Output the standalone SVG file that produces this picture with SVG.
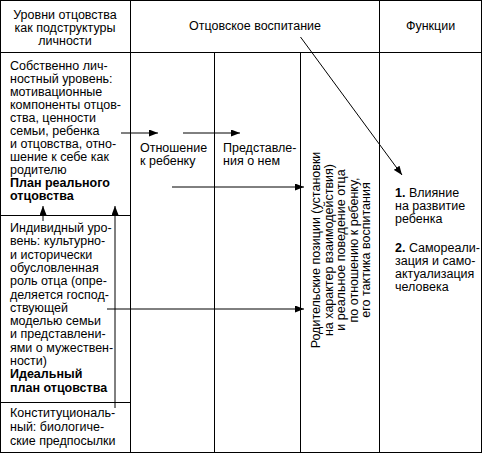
<svg xmlns="http://www.w3.org/2000/svg" width="482" height="454" viewBox="0 0 482 454">
<style>
text{font-family:"Liberation Sans",Arial,sans-serif;font-size:12.5px;fill:#000}
.c{text-anchor:middle}
.b{font-weight:bold}
.grid{stroke:#000;stroke-width:1;fill:none}
.con{stroke:#000;stroke-width:1;fill:none}
</style>
<defs>
<marker id="ah" markerUnits="userSpaceOnUse" markerWidth="9" markerHeight="7" refX="9" refY="3.5" orient="auto">
<path d="M0,0 L9,3.5 L0,7 z" fill="#000"/>
</marker>
</defs>
<rect width="482" height="454" fill="#fff"/>
<g id="grid" class="grid">
<rect x="0.5" y="0.5" width="481" height="452"/>
<line x1="0" y1="52.5" x2="482" y2="52.5"/>
<line x1="130.5" y1="0" x2="130.5" y2="453"/>
<line x1="379.5" y1="0" x2="379.5" y2="453"/>
<line x1="214.5" y1="52" x2="214.5" y2="453"/>
<line x1="300.5" y1="52" x2="300.5" y2="453"/>
<line x1="0" y1="215.5" x2="130" y2="215.5"/>
<line x1="0" y1="402.5" x2="130" y2="402.5"/>
</g>
<g id="h-levels">
<text class="c" x="65" y="19">Уровни отцовства</text>
<text class="c" x="65" y="32">как подструктуры</text>
<text class="c" x="65" y="45">личности</text>
</g>
<g id="h-upbringing">
<text class="c" x="255" y="30">Отцовское воспитание</text>
</g>
<g id="h-functions">
<text class="c" x="430.5" y="30">Функции</text>
</g>
<g id="personal-level">
<text x="10" y="70">Собственно лич-</text>
<text x="10" y="83">ностный уровень:</text>
<text x="10" y="96">мотивационные</text>
<text x="10" y="109">компоненты отцов-</text>
<text x="10" y="122">ства, ценности</text>
<text x="10" y="135">семьи, ребенка</text>
<text x="10" y="148">и отцовства, отно-</text>
<text x="10" y="161">шение к себе как</text>
<text x="10" y="174">родителю</text>
<text class="b" x="10" y="187">План реального</text>
<text class="b" x="10" y="200">отцовства</text>
</g>
<g id="individual-level">
<text x="10" y="232">Индивидный уро-</text>
<text x="10" y="245.3">вень: культурно-</text>
<text x="10" y="258.6">и исторически</text>
<text x="10" y="271.9">обусловленная</text>
<text x="10" y="285.2">роль отца (опре-</text>
<text x="10" y="298.5">деляется господ-</text>
<text x="10" y="311.8">ствующей</text>
<text x="10" y="325.1">моделью семьи</text>
<text x="10" y="338.4">и представлени-</text>
<text x="10" y="351.7">ями о мужествен-</text>
<text x="10" y="365">ности)</text>
<text class="b" x="10" y="378.3">Идеальный</text>
<text class="b" x="10" y="391.6">план отцовства</text>
</g>
<g id="constitutional-level">
<text x="10" y="417">Конституциональ-</text>
<text x="10" y="431">ный: биологиче-</text>
<text x="10" y="445">ские предпосылки</text>
</g>
<g id="attitude">
<text x="140" y="152">Отношение</text>
<text x="140" y="165">к ребенку</text>
</g>
<g id="ideas">
<text x="223" y="152">Представле-</text>
<text x="223" y="165">ния о нем</text>
</g>
<g id="positions">
<text class="c" transform="rotate(-90)" x="-250" y="320">Родительские позиции (установки</text>
<text class="c" transform="rotate(-90)" x="-250" y="332.5">на характер взаимодействия)</text>
<text class="c" transform="rotate(-90)" x="-250" y="345">и реальное поведение отца</text>
<text class="c" transform="rotate(-90)" x="-250" y="357.5">по отношению к ребенку,</text>
<text class="c" transform="rotate(-90)" x="-250" y="370">его тактика воспитания</text>
</g>
<g id="functions">
<text x="395" y="197"><tspan class="b">1.</tspan> Влияние</text>
<text x="395" y="210">на развитие</text>
<text x="395" y="223">ребенка</text>
<text x="395" y="252"><tspan class="b">2.</tspan> Самореали-</text>
<text x="395" y="265">зация и само-</text>
<text x="395" y="278">актуализация</text>
<text x="395" y="291">человека</text>
</g>
<g id="connectors" class="con">
<line x1="121" y1="133" x2="158" y2="133" marker-end="url(#ah)"/>
<line x1="183" y1="133" x2="240" y2="133" marker-end="url(#ah)"/>
<line x1="172" y1="187" x2="304" y2="187" marker-end="url(#ah)"/>
<line x1="107" y1="309" x2="304" y2="309" marker-end="url(#ah)"/>
<line x1="43" y1="221" x2="43" y2="206" marker-end="url(#ah)"/>
<line x1="115" y1="408" x2="115" y2="206" marker-end="url(#ah)"/>
<line x1="300.5" y1="37" x2="402" y2="175" marker-end="url(#ah)"/>
</g>
</svg>
